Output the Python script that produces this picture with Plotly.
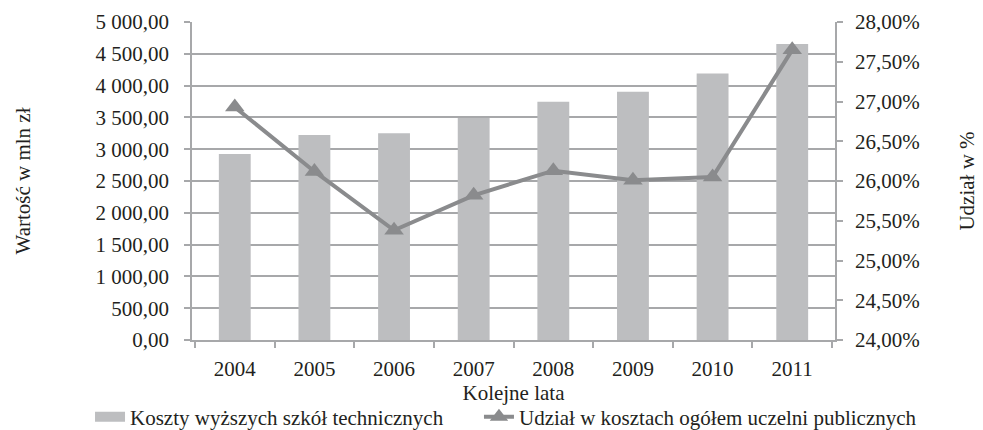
import plotly.graph_objects as go

years = ["2004", "2005", "2006", "2007", "2008", "2009", "2010", "2011"]
costs = [2925, 3225, 3250, 3490, 3745, 3905, 4190, 4655]
share = [0.2693, 0.2612, 0.2538, 0.2582, 0.2613, 0.2601, 0.2605, 0.2765]

BAR_NAME = "Koszty wyższych szkół technicznych"
LINE_NAME = "Udział w kosztach ogółem uczelni publicznych"

BAR = "#BDBEC0"
LINE = "#8A8B8D"
GRID = "#A7A8AA"
INK = "#231F20"
FONT = "Liberation Serif"

fig = go.Figure()
fig.add_trace(go.Bar(
    x=years, y=costs, name=BAR_NAME, showlegend=False,
    marker=dict(color=BAR, line=dict(width=0)), width=0.4,
))
# legend proxy: wide flat swatch like the original legend key
fig.add_trace(go.Scatter(
    x=[None], y=[None], name=BAR_NAME, mode="lines",
    line=dict(color=BAR, width=14), legend="legend",
))
fig.add_trace(go.Scatter(
    x=years, y=share, name=LINE_NAME, legend="legend2",
    mode="lines+markers", yaxis="y2",
    line=dict(color=LINE, width=4),
    marker=dict(symbol="triangle-up", size=17, color=LINE),
))

leg = dict(orientation="h", xref="paper", yref="paper", yanchor="bottom",
           y=-0.307, xanchor="left", font=dict(size=21, color=INK),
           bgcolor="rgba(0,0,0,0)", itemwidth=30)

# page body has an 8px margin, so the figure is 8px smaller each way
fig.update_layout(
    template="none",
    width=975, height=422,
    margin=dict(l=184, r=148, t=14, b=90, autoexpand=False),
    paper_bgcolor="white", plot_bgcolor="white",
    font=dict(family=FONT, size=21, color=INK),
    separators=", ",
    showlegend=True,
    legend=dict(leg, x=-0.1586),
    legend2=dict(leg, x=0.4463),
    xaxis=dict(
        type="category", showline=True, linecolor=GRID, linewidth=1.5,
        ticks="outside", tickson="boundaries", ticklen=6, tickcolor=GRID,
        tickwidth=1.5, showgrid=False, automargin=False, ticklabelstandoff=9,
        title=dict(text="Kolejne lata", standoff=4, font=dict(size=21)),
    ),
    yaxis=dict(
        range=[0, 5000], dtick=500, tickformat=",.2f",
        showline=True, linecolor=GRID, linewidth=1.5,
        ticks="outside", ticklen=6, tickcolor=GRID, tickwidth=1.5,
        showgrid=True, gridcolor=GRID, gridwidth=1.5,
        zeroline=False, automargin=False, ticklabelstandoff=11,
        title=dict(text="Wartość w mln zł", standoff=59, font=dict(size=21)),
    ),
    yaxis2=dict(
        overlaying="y", side="right", range=[0.24, 0.28], dtick=0.005,
        tickformat=".2%", showline=True, linecolor=GRID, linewidth=1.5,
        ticks="outside", ticklen=6, tickcolor=GRID, tickwidth=1.5,
        showgrid=False, zeroline=False, automargin=False, ticklabelstandoff=8,
        title=dict(text="Udział w %", standoff=41, font=dict(size=21)),
    ),
)

fig.write_html("out.html")
